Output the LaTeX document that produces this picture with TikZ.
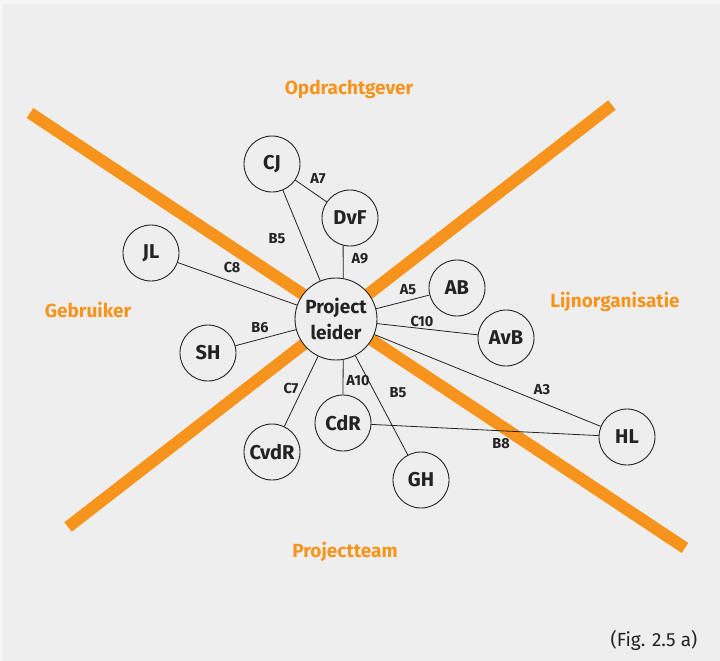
\documentclass[tikz,border=0pt]{standalone}
\usepackage{fontspec}
\setmainfont{Fira Sans}
\usetikzlibrary{positioning}
\definecolor{bggray}{RGB}{238,238,238}
\definecolor{edgegray}{RGB}{246,246,246}
\definecolor{accentorange}{RGB}{247,148,29}
\definecolor{inkgray}{RGB}{35,35,35}

\begin{document}
\begin{tikzpicture}[x=1pt, y=-1pt,
    person/.style={circle, draw=inkgray, fill=bggray, line width=0.9pt,
      minimum size=56pt, inner sep=0pt, text=inkgray,
      font=\fontsize{20}{22}\selectfont\bfseries},
    link/.style={draw=inkgray, line width=0.8pt},
    lbl/.style={text=inkgray, font=\fontsize{14.5}{16}\selectfont\bfseries},
    side/.style={text=accentorange, font=\fontsize{19}{21}\selectfont\bfseries},
    bar/.style={draw=accentorange, line width=12pt}]
        \useasboundingbox (0,0) rectangle (720,661);
        \fill[edgegray] (0,0) rectangle (720,661);
        \fill[bggray] (3,4) rectangle (720,661);
        % the two orange bars
        \draw[bar] (30,113) -- (685,548);
        \draw[bar] (612,105) -- (68,527);
        % sides
        \node[side] (opdr) at (349,89) {Opdrachtgever};
        \node[side] (lijn) at (615,302) {Lijnorganisatie};
        \node[side] (gebr) at (88,310) {Gebruiker};
        \node[side] (team) at (345,552) {Projectteam};
        % persons
        \node[person, minimum size=82pt, align=center,
              font=\fontsize{19}{26}\selectfont\bfseries] (pl) at (336,319) {Project\\leider};
        \foreach \n/\x/\y/\t in {cj/272/164/CJ, dvf/350/218/DvF, jl/151/253/JL,
                                 sh/208/353/SH, ab/457/288/AB, avb/506/338/AvB,
                                 hl/627/437/HL, gh/421/480/GH, cdr/343/423/CdR,
                                 cvdr/272/452/CvdR} {
          \node[person] (\n) at (\x,\y) {\t};
        }
        % connections
        \draw[link] (pl) -- (cj);
        \draw[link] (cj) -- (dvf);
        \draw[link] (dvf.256) -- (pl.80);
        \draw[link] (pl) -- (jl);
        \draw[link] (pl) -- (sh);
        \draw[link] (pl) -- (ab);
        \draw[link] (pl) -- (avb);
        \draw[link] (pl) -- (hl);
        \draw[link] (pl) -- (gh);
        \draw[link] (pl.-80) -- (cdr.north);
        \draw[link] (pl) -- (cvdr);
        \draw[link] (cdr) -- (hl);
        \foreach \x/\y/\t in {318/179/A7, 277/239/B5, 360/259/A9, 232/267/C8,
                              408/290/A5, 422/321/C10, 260/328/B6, 358/381/A10,
                              398/393/B5, 542/390/A3, 501/444/B8, 291/388/C7} {
          \node[lbl] at (\x,\y) {\t};
        }
        \node[text=inkgray, font=\fontsize{19}{22}\selectfont] (fig) at (654,640) {(Fig. 2.5 a)};
      \end{tikzpicture}
\end{document}
